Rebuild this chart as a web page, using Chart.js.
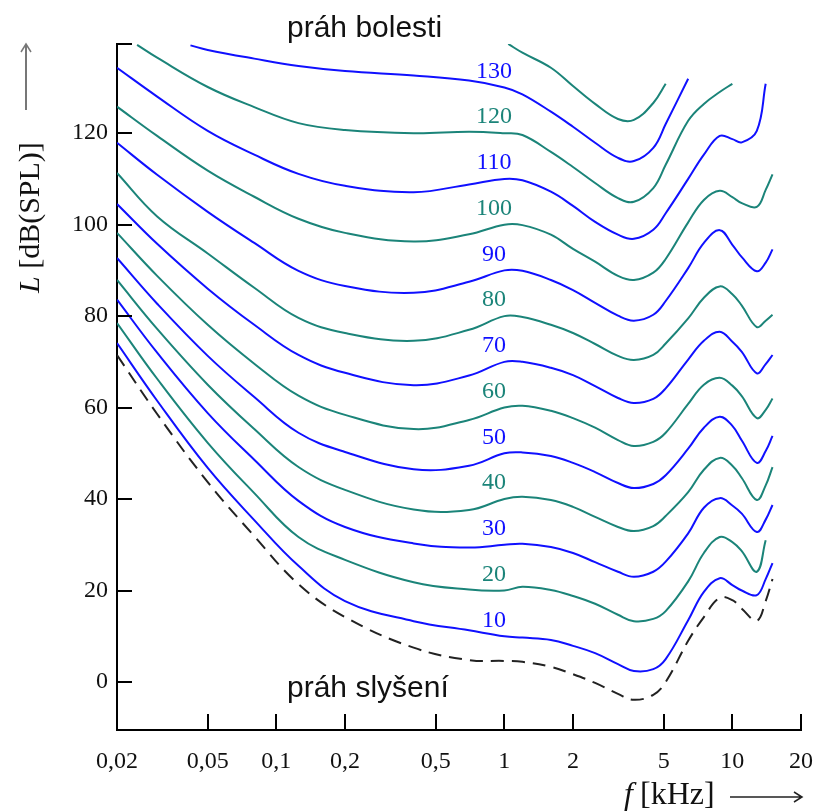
<!DOCTYPE html>
<html>
<head>
<meta charset="utf-8">
<title>Křivky stejné hlasitosti</title>
<script src="https://cdn.jsdelivr.net/npm/chart.js@4.4.1/dist/chart.umd.min.js"></script>
<style>
    html, body { margin: 0; padding: 0; background: #fff; }
    #wrap { width: 817px; height: 812px; }
</style>
</head>
<body>
<div id="wrap"><canvas id="chartHlasitost" width="817" height="812"></canvas></div>
<script>
'use strict';

/* ── Data: frekvence [kHz] a hladiny [dB SPL] ── */
var FREQ = [0.02, 0.0245, 0.03, 0.042, 0.05, 0.08, 0.125, 0.2, 0.4, 0.7, 1, 1.04, 1.2, 1.6, 2,
            2.5, 3.15, 3.7, 4.5, 5.1, 5.5, 6.4, 7.5, 8.8, 10, 11, 12.8, 14, 15];

var PRAH_SLYSENI = [71.5, null, 58.6, null, 43.7, 31.9, 21.4, 14.2, 7.5, 4.8, 4.6, null, 4.4, 3.3, 1.7,
                    -0.2, -2.6, -3.9, -2.8, 0.0, null, 9.0, 14.2, 18.4, 17.9, 16.0, 13.4, 17.7, 22.5];
var L10  = [74.1, null, 61.5, null, 46.8, 35.4, 25.4, 17.7, 13.3, 11.3, 10, null, 9.7, 9.2, 7.9,
            6.3, 3.9, 2.4, 2.8, 5.0, null, 13.5, 19.7, 22.7, 21.2, 20.0, 19.0, 22.5, 26.0];
var L20  = [78.5, null, 66.3, null, 52.3, 41.3, 31.7, 26.7, 21.8, 20.2, 20, null, 20.8, 20.1, 18.8,
            17.1, 14.7, 13.3, 13.8, 15.5, null, 22.0, 28.2, 31.7, 30.6, 28.6, 24.1, 31.0, null];
var L30  = [83.6, null, 72.0, null, 58.8, 48.6, 39.6, 33.9, 30.3, 29.4, 30, null, 30.2, 29.5, 28.2,
            26.2, 24.1, 23.0, 24.1, 26.3, null, 32.5, 38.1, 40.2, 38.6, 36.8, 32.8, 35.5, 38.7];
var L40  = [87.9, null, 77.2, null, 65.0, 55.3, 47.0, 42.0, 37.7, 37.6, 40, null, 40.5, 39.8, 38.3,
            36.1, 33.9, 33.0, 34.1, 36.3, null, 41.5, 46.4, 49.0, 47.3, 44.6, 39.8, 43.0, 47.0];
var L50  = [92.7, null, 82.7, null, 71.3, 62.3, 54.5, 50.3, 46.5, 47.3, 50, null, 50.2, 49.4, 47.9,
            45.9, 43.5, 42.4, 43.3, 45.2, null, 51.0, 55.6, 58.0, 56.0, 52.8, 47.9, 50.5, 53.8];
var L60  = [98.2, null, 88.8, null, 78.1, 69.6, 62.6, 58.4, 55.3, 57.3, 60, null, 60.4, 59.3, 57.7,
            55.6, 52.9, 51.6, 52.5, 54.5, null, 60.8, 65.0, 66.5, 64.8, 62.5, 57.7, 59.5, 62.0];
var L70  = [104.5, null, 95.8, null, 86.0, 78.1, 71.5, 67.6, 64.9, 67.0, 70, null, 70.0, 68.7, 67.1,
            64.7, 62.1, 61.0, 61.9, 64.2, null, 70.5, 74.6, 76.6, 74.4, 72.2, 67.5, 69.5, 71.5];
var L80  = [111.3, null, 101.8, null, 93.7, 86.2, 79.6, 76.3, 74.6, 77.0, 80, null, 79.8, 78.1, 76.3,
            73.9, 71.3, 70.4, 71.5, 74.0, null, 79.5, 84.0, 86.5, 84.8, 82.3, 77.6, 79.0, 80.3];
var L90  = [117.9, null, 110.9, null, 102.8, 96.0, 89.9, 86.6, 85.1, 87.5, 90, null, 89.9, 87.9, 85.7,
            82.9, 80.1, 79.0, 80.3, 83.3, null, 90.5, 96.0, 98.8, 95.6, 92.9, 89.8, 91.7, 94.6];
var L100 = [125.8, null, 119.4, null, 111.8, 106.1, 101.3, 98.2, 96.3, 97.9, 100, null, 99.9, 97.8, 94.7,
            91.9, 88.8, 87.9, 89.5, 92.5, null, 100.5, 105.4, 107.4, 106.0, 104.7, 103.9, 107.6, 111.0];
var L110 = [134.3, null, 128.0, null, 120.5, 115.3, 111.1, 108.5, 107.1, 108.8, 110, null, 109.7, 107.2, 104.1,
            100.6, 97.8, 96.9, 98.9, 102.5, null, 110.0, 115.3, 119.4, 118.7, 118.0, 120.5, 130.8, null];
var L120 = [null, 139.3, 136.5, null, 130.1, 125.7, 122.2, 120.7, 120.0, 120.3, 120, null, 119.6, 115.9, 112.6,
            109.1, 105.8, 105.0, 108.0, 113.1, null, 122.7, 126.4, 129.0, 130.8, null, null, null, null];
var L130 = [null, null, null, 139.2, 138.2, 136.3, 134.7, 133.6, 132.6, 131.5, 130, null, 128.5, 124.7, 121.4,
            117.9, 114.6, 113.9, 116.8, 122.0, null, 131.9, null, null, null, null, null, null, null];
var L140 = [null, null, null, null, null, null, null, null, null, null, null, 139.5, 137.6, 134.3, 130.3,
            126.4, 123.1, 122.9, 126.6, 130.8, null, null, null, null, null, null, null, null, null];

var PHON   = [10, 20, 30, 40, 50, 60, 70, 80, 90, 100, 110, 120, 130, 140];
var KRIVKY = [L10, L20, L30, L40, L50, L60, L70, L80, L90, L100, L110, L120, L130, L140];

var X_TICKS = [0.02, 0.05, 0.1, 0.2, 0.5, 1, 2, 5, 10, 20];
var Y_TICKS = [0, 20, 40, 60, 80, 100, 120];

/* ── Barvy ── */
var MODRA = '#1010ff';
var ZELENA = '#1b8479';

function barva(i) { return i % 2 === 0 ? MODRA : ZELENA; }

function body(arr) {
    return FREQ.map(function (f, i) { return { x: f, y: arr[i] }; });
}

/* ── Datové řady ── */
var datasets = KRIVKY.map(function (arr, i) {
    return {
        label: PHON[i] + ' phon',
        data: body(arr),
        borderColor: barva(i),
        borderWidth: 2,
        pointRadius: 0,
        fill: false,
        spanGaps: true,
        tension: 0.4
    };
});
datasets.push({
    label: 'práh slyšení',
    data: body(PRAH_SLYSENI),
    borderColor: '#222',
    borderWidth: 2,
    borderDash: [13, 8],
    pointRadius: 0,
    fill: false,
    spanGaps: true,
    tension: 0.4
});

/* ── Popisky, dovnitř mířící tiky a názvy os ── */
var popisky = {
    id: 'popisky',
    afterDraw: function (chart) {
        var ctx = chart.ctx, a = chart.chartArea;
        var sx = chart.scales.x, sy = chart.scales.y;
        ctx.save();

        /* tiky dovnitř grafu */
        ctx.strokeStyle = '#000';
        ctx.lineWidth = 2;
        ctx.beginPath();
        X_TICKS.slice(1).forEach(function (v) {
            var px = Math.round(sx.getPixelForValue(v));
            ctx.moveTo(px, a.bottom);
            ctx.lineTo(px, a.bottom - 16);
        });
        Y_TICKS.concat([sy.max]).forEach(function (v) {
            var py = Math.round(sy.getPixelForValue(v));
            ctx.moveTo(a.left, py);
            ctx.lineTo(a.left + 15, py);
        });
        ctx.stroke();

        /* hodnoty hladin nad křivkami */
        ctx.font = '24px "Liberation Serif"';
        ctx.textAlign = 'center';
        ctx.textBaseline = 'middle';
        PHON.forEach(function (p, i) {
            if (p > 130) { return; }
            ctx.fillStyle = barva(i);
            ctx.fillText(String(p), sx.getPixelForValue(0.9), sy.getPixelForValue(p) - 16);
        });

        /* práh bolesti / slyšení */
        ctx.fillStyle = '#111';
        ctx.font = '30px "Liberation Sans"';
        ctx.textAlign = 'left';
        ctx.textBaseline = 'alphabetic';
        ctx.fillText('práh bolesti', 287, 37);
        ctx.fillText('práh slyšení', 287, 697);

        /* osa x: f [kHz] -> */
        ctx.font = 'italic 32px "Liberation Serif"';
        ctx.fillText('f', 624, 804);
        ctx.font = '32px "Liberation Serif"';
        ctx.fillText('[kHz]', 640, 804);
        ctx.strokeStyle = '#222';
        ctx.lineWidth = 1.5;
        ctx.beginPath();
        ctx.moveTo(730, 797); ctx.lineTo(802, 797);
        ctx.moveTo(794, 792); ctx.lineTo(802, 797); ctx.lineTo(794, 802);
        ctx.stroke();

        /* osa y: L [dB(SPL)] ↑ */
        ctx.save();
        ctx.translate(39, 293);
        ctx.rotate(-Math.PI / 2);
        ctx.font = 'italic 30px "Liberation Serif"';
        ctx.fillText('L', 0, 0);
        var w = ctx.measureText('L').width;
        ctx.font = '30px "Liberation Serif"';
        ctx.fillText(' [dB(SPL)]', w, 0);
        ctx.restore();
        ctx.strokeStyle = '#777';
        ctx.lineWidth = 2;
        ctx.beginPath();
        ctx.moveTo(26, 110); ctx.lineTo(26, 44);
        ctx.stroke();
        ctx.lineWidth = 1.5;
        ctx.beginPath();
        ctx.moveTo(21, 52); ctx.lineTo(26, 44); ctx.lineTo(31, 52);
        ctx.stroke();

        ctx.restore();
    }
};

var ctx = document.getElementById('chartHlasitost');
new Chart(ctx, {
    type: 'line',
    data: { datasets: datasets },
    plugins: [popisky],
    options: {
        responsive: false,
        animation: false,
        layout: { padding: { left: 0, right: 16, top: 44, bottom: 32 } },
        plugins: { legend: { display: false }, tooltip: { enabled: false } },
        scales: {
            x: {
                type: 'logarithmic',
                min: 0.02,
                max: 20,
                grid: { display: false, drawTicks: false },
                border: { display: true, color: '#000', width: 2 },
                afterBuildTicks: function (s) {
                    s.ticks = X_TICKS.map(function (v) { return { value: v }; });
                },
                afterFit: function (s) {
                    s.height = 50;
                    s.paddingLeft = 0;
                    s.paddingRight = 0;
                },
                ticks: {
                    autoSkip: false,
                    maxRotation: 0,
                    minRotation: 0,
                    padding: 17,
                    color: '#111',
                    font: { family: 'Liberation Serif', size: 24 },
                    callback: function (v) { return String(v).replace('.', ','); }
                }
            },
            y: {
                type: 'linear',
                min: -10.5,
                max: 139.5,
                grid: { display: false, drawTicks: false },
                border: { display: true, color: '#000', width: 2 },
                afterBuildTicks: function (s) {
                    s.ticks = Y_TICKS.map(function (v) { return { value: v }; });
                },
                afterFit: function (s) {
                    s.width = 117;
                    s.paddingTop = 0;
                    s.paddingBottom = 0;
                },
                ticks: {
                    padding: 9,
                    color: '#111',
                    font: { family: 'Liberation Serif', size: 24 },
                    callback: function (v) { return String(v); }
                }
            }
        }
    }
});
</script>
</body>
</html>
